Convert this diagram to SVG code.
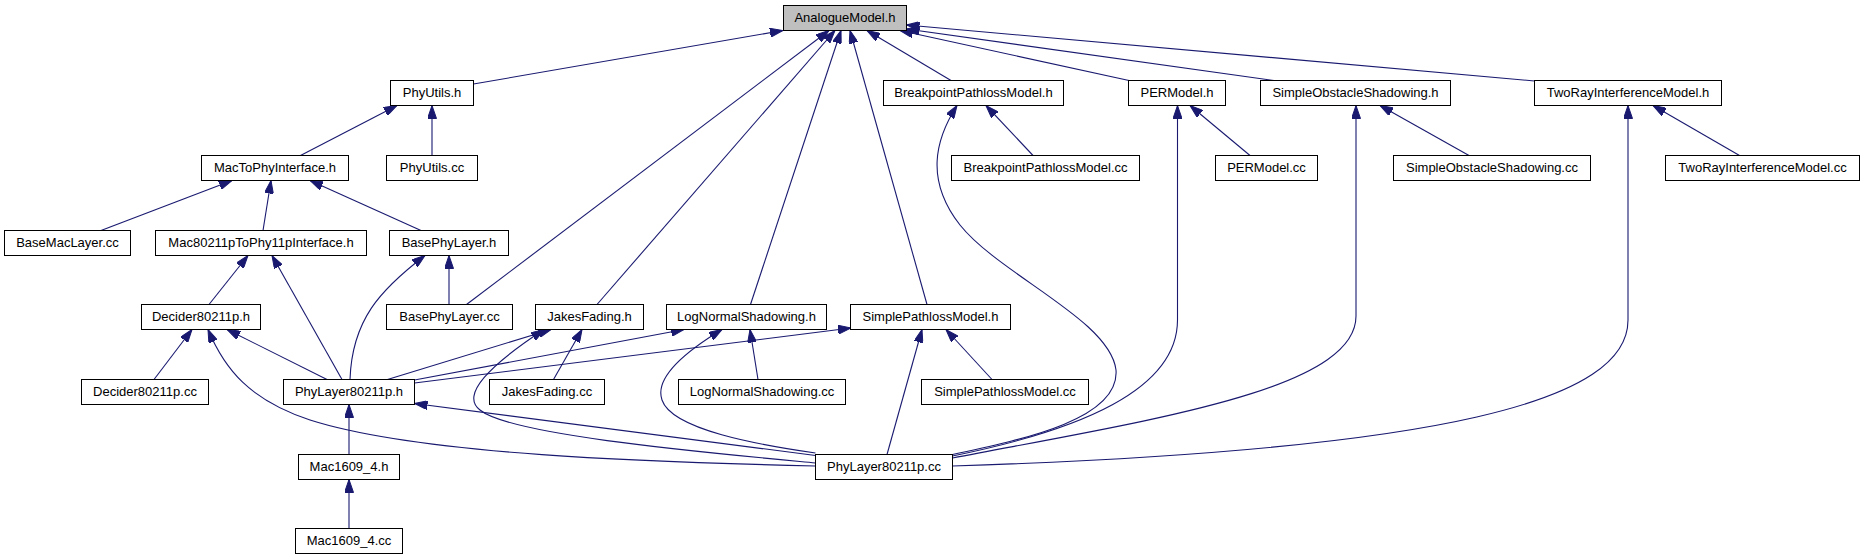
<svg xmlns="http://www.w3.org/2000/svg" width="1864" height="560" viewBox="0 0 1864 560">
<style>
.n rect{fill:#fff;stroke:#000;stroke-width:1}
.n text{font-family:"Liberation Sans",Arial,sans-serif;font-size:13px;text-anchor:middle;fill:#000}
#root rect{fill:#bfbfbf}
.e path{fill:none;stroke:#191970;stroke-width:1.1;marker-start:url(#arr)}
</style>
<defs>
<marker id="arr" viewBox="0 0 13 9" refX="13" refY="4.5" markerWidth="13" markerHeight="9" markerUnits="userSpaceOnUse" orient="auto-start-reverse">
<path d="M0,0 L13,4.5 L0,9 z" fill="#191970" stroke="#191970" stroke-width="1"/>
</marker>
</defs>
<rect width="1864" height="560" fill="#fff"/>
<g class="e" id="edges">
<path d="M783,30.5 L473.5,84"/>
<path d="M829,30.5 L466.5,304.5"/>
<path d="M835,30.5 L597,304.5"/>
<path d="M841,30.5 L750.5,304.5"/>
<path d="M850,30.5 L927,304.5"/>
<path d="M867,30.5 L951,80.5"/>
<path d="M900,30.5 L1129,80.5"/>
<path d="M906.5,29 L1274,80.5"/>
<path d="M906.5,25 L1534.5,81"/>
<path d="M397,105.5 L300.5,155.5"/>
<path d="M432,105.5 L432,155.5"/>
<path d="M986,105.5 L1033,155.5"/>
<path d="M1190,105.5 L1250,155.5"/>
<path d="M1380,105.5 L1469,155.5"/>
<path d="M1653,105.5 L1739.5,155.5"/>
<path d="M957,105.5 C935,140 925,180 960,225 C1000,275 1110,320 1116,370 C1120,420 1020,440 952.5,454.5"/>
<path d="M1177.5,105.5 L1177.5,320 C1177.5,390 1080,430 952.5,456"/>
<path d="M1356,105.5 L1356,316 C1356,390 1150,420 952.5,458"/>
<path d="M1628,105.5 L1628,320 C1628,400 1450,450 952.5,466"/>
<path d="M232,180.5 L101,230.5"/>
<path d="M271,180.5 L263,230.5"/>
<path d="M310,180.5 L421,230.5"/>
<path d="M248,255.5 L209,304.5"/>
<path d="M272,255.5 L342,379.5"/>
<path d="M425,255.5 C380,290 352,320 350,379.5"/>
<path d="M449,255.5 L449,304.5"/>
<path d="M192,329.5 L154,379.5"/>
<path d="M208,329.5 C225,370 250,400 310,420 C420,455 650,462 815.5,466"/>
<path d="M227,329.5 L327,379.5"/>
<path d="M551,329.5 L387.5,379.5"/>
<path d="M582,329.5 L553.5,379.5"/>
<path d="M544,329.5 C490,365 460,395 480,410 C510,435 700,452 815.5,463"/>
<path d="M684,329.5 L414.5,380"/>
<path d="M722,329.5 C680,355 655,380 662,400 C672,430 760,445 815.5,453"/>
<path d="M750,329.5 L758,379.5"/>
<path d="M851,328 L414.5,383"/>
<path d="M922,329.5 L887,454.5"/>
<path d="M946,329.5 L992,379.5"/>
<path d="M414.5,403.5 L815.5,455.5"/>
<path d="M349,404.5 L349,454.5"/>
<path d="M349,479.5 L349,528.5"/>
</g>
<g class="n" id="root"><rect x="783.5" y="5.5" width="123" height="25"/><text x="845" y="21.5">AnalogueModel.h</text></g>
<g class="n" id="phyutils_h"><rect x="390.5" y="80.5" width="83" height="25"/><text x="432" y="96.5">PhyUtils.h</text></g>
<g class="n" id="breakpoint_h"><rect x="883.5" y="80.5" width="180" height="25"/><text x="973.5" y="96.5">BreakpointPathlossModel.h</text></g>
<g class="n" id="permodel_h"><rect x="1128.5" y="80.5" width="97" height="25"/><text x="1177" y="96.5">PERModel.h</text></g>
<g class="n" id="obstacle_h"><rect x="1260.5" y="80.5" width="190" height="25"/><text x="1355.5" y="96.5">SimpleObstacleShadowing.h</text></g>
<g class="n" id="tworay_h"><rect x="1534.5" y="80.5" width="187" height="25"/><text x="1628" y="96.5">TwoRayInterferenceModel.h</text></g>
<g class="n" id="mactophy_h"><rect x="201.5" y="155.5" width="147" height="25"/><text x="275" y="171.5">MacToPhyInterface.h</text></g>
<g class="n" id="phyutils_cc"><rect x="386.5" y="155.5" width="91" height="25"/><text x="432" y="171.5">PhyUtils.cc</text></g>
<g class="n" id="breakpoint_cc"><rect x="951.5" y="155.5" width="188" height="25"/><text x="1045.5" y="171.5">BreakpointPathlossModel.cc</text></g>
<g class="n" id="permodel_cc"><rect x="1215.5" y="155.5" width="102" height="25"/><text x="1266.5" y="171.5">PERModel.cc</text></g>
<g class="n" id="obstacle_cc"><rect x="1393.5" y="155.5" width="197" height="25"/><text x="1492" y="171.5">SimpleObstacleShadowing.cc</text></g>
<g class="n" id="tworay_cc"><rect x="1665.5" y="155.5" width="194" height="25"/><text x="1762.5" y="171.5">TwoRayInterferenceModel.cc</text></g>
<g class="n" id="basemac_cc"><rect x="4.5" y="230.5" width="126" height="25"/><text x="67.5" y="246.5">BaseMacLayer.cc</text></g>
<g class="n" id="mac80211p_h"><rect x="155.5" y="230.5" width="211" height="25"/><text x="261" y="246.5">Mac80211pToPhy11pInterface.h</text></g>
<g class="n" id="basephy_h"><rect x="389.5" y="230.5" width="119" height="25"/><text x="449" y="246.5">BasePhyLayer.h</text></g>
<g class="n" id="decider_h"><rect x="141.5" y="304.5" width="119" height="25"/><text x="201" y="320.5">Decider80211p.h</text></g>
<g class="n" id="basephy_cc"><rect x="386.5" y="304.5" width="126" height="25"/><text x="449.5" y="320.5">BasePhyLayer.cc</text></g>
<g class="n" id="jakes_h"><rect x="535.5" y="304.5" width="108" height="25"/><text x="589.5" y="320.5">JakesFading.h</text></g>
<g class="n" id="lognormal_h"><rect x="666.5" y="304.5" width="160" height="25"/><text x="746.5" y="320.5">LogNormalShadowing.h</text></g>
<g class="n" id="simplepath_h"><rect x="850.5" y="304.5" width="160" height="25"/><text x="930.5" y="320.5">SimplePathlossModel.h</text></g>
<g class="n" id="decider_cc"><rect x="81.5" y="379.5" width="127" height="25"/><text x="145" y="395.5">Decider80211p.cc</text></g>
<g class="n" id="phylayer_h"><rect x="283.5" y="379.5" width="131" height="25"/><text x="349" y="395.5">PhyLayer80211p.h</text></g>
<g class="n" id="jakes_cc"><rect x="489.5" y="379.5" width="115" height="25"/><text x="547" y="395.5">JakesFading.cc</text></g>
<g class="n" id="lognormal_cc"><rect x="678.5" y="379.5" width="167" height="25"/><text x="762" y="395.5">LogNormalShadowing.cc</text></g>
<g class="n" id="simplepath_cc"><rect x="921.5" y="379.5" width="167" height="25"/><text x="1005" y="395.5">SimplePathlossModel.cc</text></g>
<g class="n" id="mac1609_h"><rect x="298.5" y="454.5" width="101" height="25"/><text x="349" y="470.5">Mac1609_4.h</text></g>
<g class="n" id="phylayer_cc"><rect x="815.5" y="454.5" width="137" height="25"/><text x="884" y="470.5">PhyLayer80211p.cc</text></g>
<g class="n" id="mac1609_cc"><rect x="295.5" y="528.5" width="107" height="25"/><text x="349" y="544.5">Mac1609_4.cc</text></g>
</svg>
